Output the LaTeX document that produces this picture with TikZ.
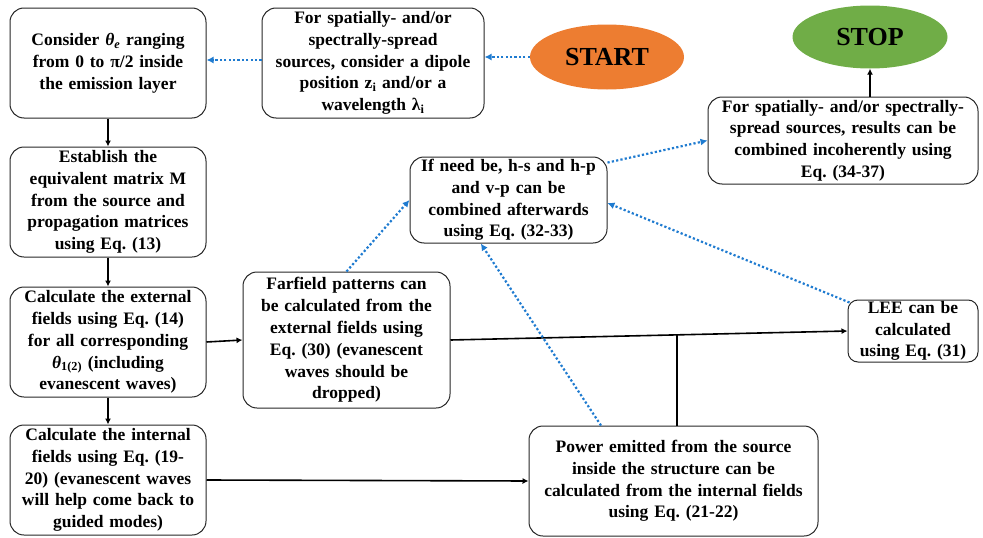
\documentclass[tikz,border=0pt]{standalone}
\usepackage{fontspec}
\setmainfont{Liberation Serif}
\usetikzlibrary{shapes.geometric,arrows.meta,calc}
\definecolor{startorange}{HTML}{ED7D31}
\definecolor{stopgreen}{HTML}{70AD47}
\definecolor{dotblue}{HTML}{1F7BD0}
\frenchspacing
\begin{document}
\begin{tikzpicture}[x=1pt,y=-1pt,
  box/.style={draw=black!85,line width=1pt,rounded corners=14pt,align=center,
    font=\fontsize{17.5}{21.8}\selectfont\bfseries,inner sep=1pt},
  oval/.style={ellipse,draw=none,font=\fontsize{26}{30}\selectfont\bfseries,inner sep=0pt},
  blk/.style={line width=1.6pt,-{Latex[length=6pt,width=6pt]}},
  plain/.style={line width=1.6pt},
  dots/.style={dotblue,line width=2.2pt,dash pattern=on 2.2pt off 2.2pt,
    -{Latex[length=7pt,width=7pt]}}]
\useasboundingbox (0,0) rectangle (983,538);
\node[box,minimum width=196pt,minimum height=110pt,text width=194pt] (A) at (108,63)
  {Consider \textit{θ}\textsubscript{\textit{e}} ranging\\from 0 to π/2 inside\\the emission layer};
\node[box,minimum width=222pt,minimum height=110pt,text width=220pt] (B) at (373,63)
  {For spatially- and/or\\spectrally-spread\\sources, consider a dipole\\position z\textsubscript{i} and/or a\\wavelength λ\textsubscript{i}};
\node[oval,fill=startorange,minimum width=154pt,minimum height=65pt] (start) at (607,57) {START};
\node[oval,fill=stopgreen,minimum width=155pt,minimum height=63pt] (stop) at (870,37) {STOP};
\node[box,minimum width=270pt,minimum height=87pt,text width=268pt] (res) at (843,140.5)
  {For spatially- and/or spectrally-\\spread sources, results can be\\combined incoherently using\\Eq. (34-37)};
\node[box,minimum width=197pt,minimum height=86pt,text width=195pt] (ifb) at (508.5,200)
  {If need be, h-s and h-p\\and v-p can be\\combined afterwards\\using Eq. (32-33)};
\node[box,minimum width=196pt,minimum height=110pt,text width=194pt] (est) at (108,202)
  {Establish the\\equivalent matrix M\\from the source and\\propagation matrices\\using Eq. (13)};
\node[box,minimum width=196pt,minimum height=110pt,text width=194pt] (ext) at (108,342)
  {Calculate the external\\fields using Eq. (14)\\for all corresponding\\\textit{θ}\textsubscript{1(2)} (including\\evanescent waves)};
\node[box,minimum width=207pt,minimum height=136pt,text width=205pt] (far) at (346.5,340)
  {Farfield patterns can\\be calculated from the\\external fields using\\Eq. (30) (evanescent\\waves should be\\dropped)};
\node[box,minimum width=130pt,minimum height=62pt,text width=128pt,rounded corners=10pt] (lee) at (913,331)
  {LEE can be\\calculated\\using Eq. (31)};
\node[box,minimum width=196pt,minimum height=110pt,text width=194pt] (int) at (108,480)
  {Calculate the internal\\fields using Eq. (19-\\20) (evanescent waves\\will help come back to\\guided modes)};
\node[box,minimum width=289pt,minimum height=110pt,text width=287pt] (pow) at (673.5,481)
  {Power emitted from the source\\inside the structure can be\\calculated from the internal fields\\using Eq. (21-22)};
% black connectors
\draw[blk] (A.south) -- (est.north);
\draw[blk] (est.south) -- (ext.north);
\draw[blk] (ext.south) -- (int.north);
\draw[blk] (ext.east) -- (far.west);
\draw[blk] (far.east) -- (lee.west);
\coordinate (j) at ($(far.east)!0.57!(lee.west)$);
\draw[plain] (j |- pow.north) -- (j);
\draw[blk] (int.east) -- (pow.west);
\draw[blk] (stop.south |- res.north) -- (stop.south);
% blue dotted connectors
\draw[dots] (start.west) -- (start.west -| B.east);
\draw[dots] ($(B.west)+(0,-3)$) -- ($(B.west -| A.east)+(0,-3)$);
\draw[dots] (far.north) -- (ifb.west);
\draw[dots] ($(pow.north west)!0.25!(pow.north east)$) -- ($(ifb.south west)!0.36!(ifb.south east)$);
\draw[dots] ($(lee.north west)+(2,3)$) -- ($(ifb.east)+(0,3)$);
\draw[dots] ($(ifb.north east)!0.07!(ifb.south east)$) -- (res.west);
\end{tikzpicture}
\end{document}
